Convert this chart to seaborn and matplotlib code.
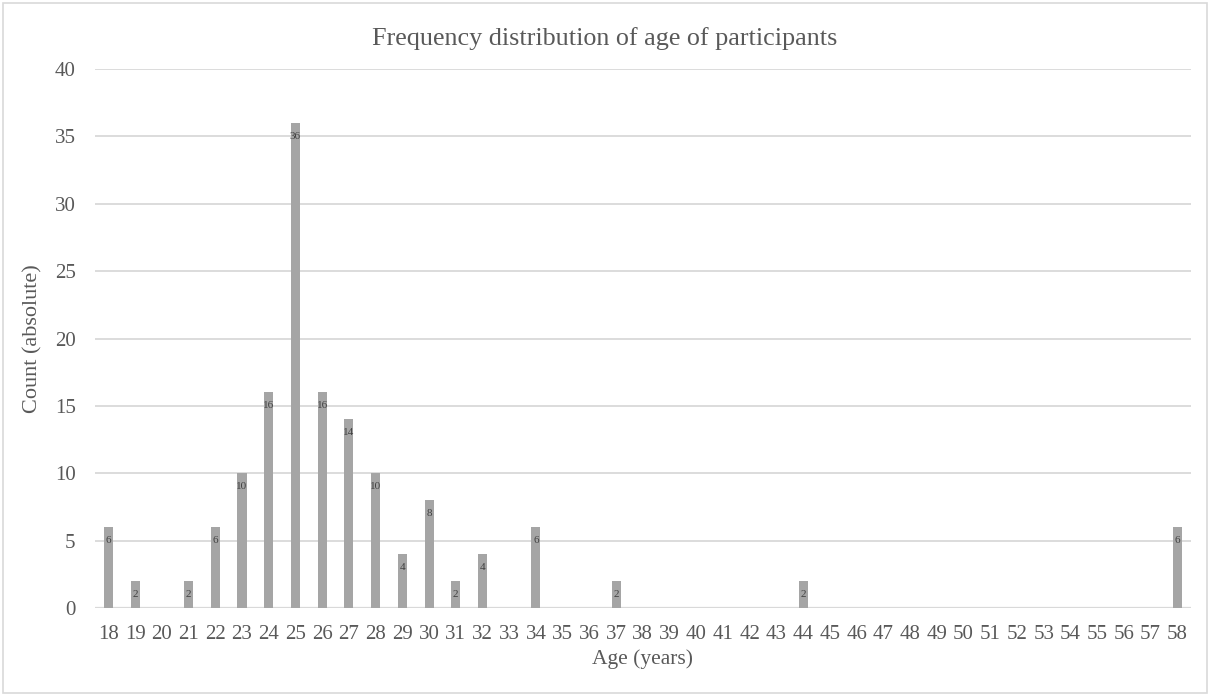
import matplotlib
matplotlib.use("Agg")
import matplotlib.pyplot as plt
import seaborn as sns
import pandas as pd
from matplotlib.patches import Rectangle

ages = list(range(18, 59))
count_map = {18: 6, 19: 2, 21: 2, 22: 6, 23: 10, 24: 16, 25: 36, 26: 16, 27: 14,
             28: 10, 29: 4, 30: 8, 31: 2, 32: 4, 34: 6, 37: 2, 44: 2, 58: 6}
counts = [count_map.get(a, 0) for a in ages]
yticks = [0, 5, 10, 15, 20, 25, 30, 35, 40]

title = "Frequency distribution of age of participants"
xlabel = "Age (years)"
ylabel = "Count (absolute)"

sns.set_theme(style="white")
plt.rcParams['font.family'] = ['Liberation Serif', 'DejaVu Serif']

text_c = "#595959"
grid_c = "#d9d9d9"
bar_c = "#a5a5a5"

df = pd.DataFrame({"age": [str(a) for a in ages], "count": counts})

fig = plt.figure(figsize=(12.1, 6.96), dpi=100)
ax = fig.add_axes([95 / 1210, 1 - 608 / 696, (1190.7 - 95) / 1210, (608 - 69) / 696])

sns.barplot(data=df, x="age", y="count", order=[str(a) for a in ages],
            color=bar_c, width=0.34, saturation=1, ax=ax, zorder=3,
            linewidth=0, edgecolor="none")

ax.set_xlim(-0.5, len(ages) - 0.5)
ax.set_ylim(0, 40)
ax.set_yticks(yticks)
ax.yaxis.grid(True, color=grid_c, linewidth=1.3, zorder=0)
ax.xaxis.grid(False)
for s in ax.spines.values():
    s.set_visible(False)
ax.axhline(0, color=grid_c, linewidth=1.6, zorder=2)

ax.tick_params(axis='both', length=0, labelsize=15, labelcolor=text_c)
ax.tick_params(axis='x', pad=12)
ax.tick_params(axis='y', pad=14)

labels = [str(c) if c > 0 else "" for c in counts]
ax.bar_label(ax.containers[0], labels=labels, padding=-13, fontsize=8,
             color="#404040", zorder=4)

ax.set_xlabel(xlabel, fontsize=15.5, color=text_c, labelpad=4)
ax.set_ylabel(ylabel, fontsize=16, color=text_c, labelpad=9)
fig.text(605 / 1210, 1 - 39 / 696, title, ha='center', va='center',
         fontsize=18.8, color=text_c)

fig.patches.append(Rectangle((3 / 1210, 3 / 696), 1 - 6 / 1210, 1 - 6 / 696,
                             transform=fig.transFigure, fill=False,
                             edgecolor="#d9d9d9", linewidth=1.2))

fig.savefig("out.png", dpi=100, facecolor="white")
